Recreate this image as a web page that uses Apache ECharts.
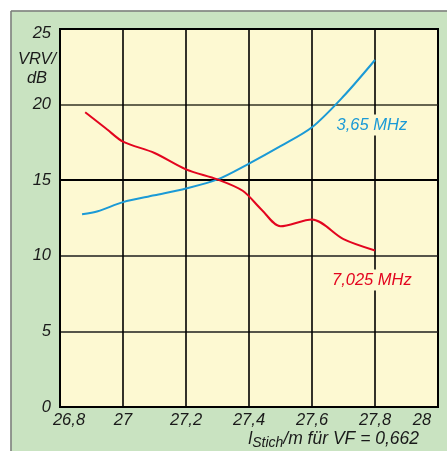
<!DOCTYPE html>
<html>
<head>
<meta charset="utf-8">
<script src="https://cdn.jsdelivr.net/npm/echarts@6/dist/echarts.min.js"></script>
<style>
html,body{margin:0;padding:0;background:#fff;}
#c{width:447px;height:451px;}
</style>
</head>
<body>
<div id="c"></div>
<script>
// Data
var xTicks = [26.8, 27, 27.2, 27.4, 27.6, 27.8, 28];
var yTicks = [0, 5, 10, 15, 20, 25];

var blueName = '3,65 MHz';
var blueX = [26.87, 26.92, 27.0, 27.1, 27.2, 27.3, 27.4, 27.5, 27.6, 27.7, 27.8];
var blueY = [12.75, 12.95, 13.55, 14.0, 14.45, 15.05, 16.1, 17.25, 18.5, 20.55, 22.95];

var redName = '7,025 MHz';
var redX = [26.88, 26.95, 27.0, 27.1, 27.2, 27.3, 27.38, 27.44, 27.5, 27.6, 27.7, 27.8];
var redY = [19.5, 18.35, 17.55, 16.8, 15.72, 15.05, 14.3, 13.05, 11.95, 12.4, 11.1, 10.35];

var blueLabelPos = [27.79, 18.65];
var redLabelPos = [27.79, 8.4];

var yAxisTitle = 'VRV/\ndB';
var xAxisTitleMain = 'l';
var xAxisTitleSub = 'Stich';
var xAxisTitleRest = '/m für VF = 0,662';

function zip(xs, ys) { return xs.map(function (x, i) { return [x, ys[i]]; }); }

var FONT = '"Liberation Sans", Arial, sans-serif';
var GREEN = '#c9e3c1';
var YELLOW = '#fdf9d2';
var BLUE = '#1b9ad6';
var RED = '#e3051f';

var chart = echarts.init(document.getElementById('c'), null, {renderer: 'canvas'});
chart.setOption({
  animation: false,
  backgroundColor: GREEN,
  textStyle: {fontFamily: FONT},
  grid: {
    left: 60, top: 29, right: 9, bottom: 44,
    show: true, backgroundColor: YELLOW, borderColor: '#000', borderWidth: 2
  },
  xAxis: {
    type: 'value', min: xTicks[0], max: xTicks[xTicks.length - 1], interval: 0.2,
    axisLine: {show: true, lineStyle: {color: '#000', width: 2}},
    axisTick: {show: false},
    splitLine: {show: true, lineStyle: {color: '#000', width: 1.6}},
    axisLabel: {
      margin: 5, fontSize: 16.5, fontStyle: 'italic', color: '#1a1a1a', fontFamily: FONT,
      formatter: function (v) {
        var s = (Math.round(v * 10) / 10).toString().replace('.', ',');
        if (Math.abs(v - xTicks[0]) < 1e-6) return '{first|' + s + '}';
        if (Math.abs(v - xTicks[xTicks.length - 1]) < 1e-6) return '{last|' + s + '}';
        return s;
      },
      rich: {
        first: {fontSize: 16.5, fontStyle: 'italic', color: '#1a1a1a', fontFamily: FONT, padding: [0, 0, 0, 18]},
        last: {fontSize: 16.5, fontStyle: 'italic', color: '#1a1a1a', fontFamily: FONT, padding: [0, 32, 0, 0]}
      }
    }
  },
  yAxis: {
    type: 'value', min: yTicks[0], max: yTicks[yTicks.length - 1], interval: 5,
    axisLine: {show: true, lineStyle: {color: '#000', width: 2}},
    axisTick: {show: false},
    splitLine: {show: true, lineStyle: {color: ['#000', '#55554a', '#55554a', '#000', '#66654f', '#000'], width: 1.8}},
    axisLabel: {
      margin: 9, fontSize: 16.5, fontStyle: 'italic', color: '#1a1a1a', fontFamily: FONT,
      formatter: function (v) {
        if (v === yTicks[yTicks.length - 1]) return '{top|' + v + '}';
        return String(v);
      },
      rich: {
        top: {fontSize: 16.5, fontStyle: 'italic', color: '#1a1a1a', fontFamily: FONT, padding: [8, 0, 0, 0]}
      }
    }
  },
  series: [
    {
      name: blueName, type: 'line', data: zip(blueX, blueY), smooth: 0.3,
      showSymbol: false, symbol: 'none',
      lineStyle: {color: BLUE, width: 2}, itemStyle: {color: BLUE}, z: 3,
      markPoint: {
        symbol: 'rect', symbolSize: 0,
        label: {
          show: true, position: 'inside', formatter: blueName, fontSize: 16.5, fontStyle: 'italic',
          color: BLUE, fontFamily: FONT, backgroundColor: YELLOW, padding: [2, 2, 2, 2]
        },
        data: [{coord: blueLabelPos}]
      }
    },
    {
      name: redName, type: 'line', data: zip(redX, redY), smooth: 0.3,
      showSymbol: false, symbol: 'none',
      lineStyle: {color: RED, width: 2}, itemStyle: {color: RED}, z: 3,
      markPoint: {
        symbol: 'rect', symbolSize: 0,
        label: {
          show: true, position: 'inside', formatter: redName, fontSize: 16.5, fontStyle: 'italic',
          color: RED, fontFamily: FONT, backgroundColor: YELLOW, padding: [2, 2, 2, 2]
        },
        data: [{coord: redLabelPos}]
      }
    }
  ],
  graphic: [
    {type: 'rect', left: 0, top: 0, shape: {width: 447, height: 10.5}, style: {fill: '#fff'}, silent: true},
    {type: 'rect', left: 0, top: 0, shape: {width: 10.5, height: 451}, style: {fill: '#fff'}, silent: true},
    {type: 'line', shape: {x1: 11, y1: 11, x2: 447, y2: 11}, style: {stroke: '#7a7a7a', lineWidth: 1.5}, silent: true},
    {type: 'line', shape: {x1: 11, y1: 11, x2: 11, y2: 451}, style: {stroke: '#7a7a7a', lineWidth: 1.5}, silent: true},
    {
      type: 'text', x: 37, y: 50,
      style: {
        text: yAxisTitle, font: 'italic 16.5px ' + FONT, fill: '#1a1a1a',
        textAlign: 'center', lineHeight: 19
      }
    },
    {
      type: 'text', x: 419, y: 430,
      style: {
        text: '{a|' + xAxisTitleMain + '}{b|' + xAxisTitleSub + '}{a|' + xAxisTitleRest + '}',
        textAlign: 'right', textVerticalAlign: 'top',
        rich: {
          a: {fontSize: 17.5, fontStyle: 'italic', fontFamily: FONT, fill: '#1a1a1a', lineHeight: 18, verticalAlign: 'top'},
          b: {fontSize: 14, fontStyle: 'italic', fontFamily: FONT, fill: '#1a1a1a', lineHeight: 14, padding: [6, 0, 0, 0], verticalAlign: 'top'}
        }
      }
    }
  ]
});
</script>
</body>
</html>
